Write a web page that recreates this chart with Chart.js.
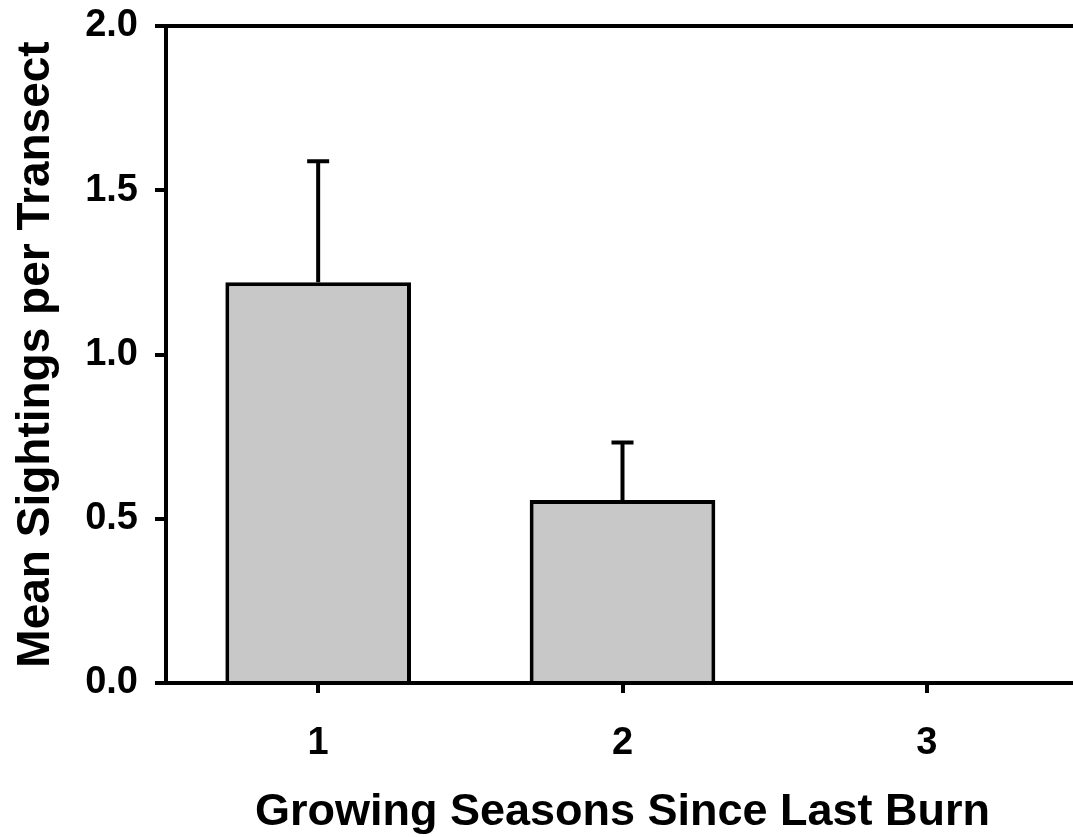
<!DOCTYPE html>
<html>
<head>
<meta charset="utf-8">
<script src="https://cdn.jsdelivr.net/npm/chart.js@4/dist/chart.umd.min.js"></script>
<style>
  html, body { margin: 0; padding: 0; background: #ffffff; overflow: hidden; }
  #wrap { width: 1085px; height: 840px; position: relative; }
</style>
</head>
<body>
<div id="wrap"><canvas id="chart"></canvas></div>
<script>
// Growing seasons since the last burn and mean sightings per transect (+ SE)
const seasons = ['1', '2', '3'];
const meanSightings = [1.22, 0.557, 0];
const stdErrors = [0.368, 0.175, 0];
const yTicks = [0, 0.5, 1.0, 1.5, 2.0];

const FONT = '"Liberation Sans", Arial, sans-serif';
const LINE = 4;

// Upper error bars with caps, drawn through the chart's scales
const errorBars = {
  id: 'errorBars',
  afterDatasetsDraw(chart) {
    const ctx = chart.ctx;
    const xs = chart.scales.x, ys = chart.scales.y;
    ctx.save();
    ctx.strokeStyle = '#000';
    ctx.lineWidth = LINE;
    ctx.lineCap = 'butt';
    meanSightings.forEach((m, i) => {
      const e = stdErrors[i];
      if (!e) return;
      const x = xs.getPixelForValue(i);
      const y0 = ys.getPixelForValue(m);
      const y1 = ys.getPixelForValue(m + e);
      ctx.beginPath();
      ctx.moveTo(x, y0);
      ctx.lineTo(x, y1);
      ctx.moveTo(x - 11, y1);
      ctx.lineTo(x + 11, y1);
      ctx.stroke();
    });
    ctx.restore();
  }
};

// Frame line along the top of the plot area
const topFrame = {
  id: 'topFrame',
  afterDraw(chart) {
    const { ctx, chartArea } = chart;
    ctx.save();
    ctx.strokeStyle = '#000';
    ctx.lineWidth = LINE;
    ctx.beginPath();
    ctx.moveTo(chartArea.left, chartArea.top);
    ctx.lineTo(chartArea.right, chartArea.top);
    ctx.stroke();
    ctx.restore();
  }
};

new Chart(document.getElementById('chart'), {
  type: 'bar',
  data: {
    labels: seasons,
    datasets: [{
      data: meanSightings,
      backgroundColor: '#c8c8c8',
      borderColor: '#000000',
      borderWidth: LINE,
      barPercentage: 0.61,
      categoryPercentage: 1.0
    }]
  },
  options: {
    responsive: true,
    maintainAspectRatio: false,
    animation: false,
    layout: { padding: { top: 26, right: 6, left: 0, bottom: 0 } },
    plugins: {
      legend: { display: false },
      tooltip: { enabled: false }
    },
    scales: {
      x: {
        type: 'category',
        offset: true,
        grid: {
          offset: false,
          drawOnChartArea: false,
          drawTicks: true,
          tickLength: 10,
          color: '#000',
          lineWidth: LINE
        },
        border: { display: true, color: '#000', width: LINE },
        ticks: {
          color: '#000',
          padding: 28,
          font: { family: FONT, size: 38, weight: 'bold' }
        },
        title: {
          display: true,
          text: 'Growing Seasons Since Last Burn',
          color: '#000',
          font: { family: FONT, size: 45, weight: 'bold' },
          padding: { top: 0, bottom: 0 }
        },
        afterFit(scale) {
          scale.height = 157;
          scale.paddingLeft = 0;
          scale.paddingRight = 0;
        }
      },
      y: {
        min: 0,
        max: 2.0,
        afterBuildTicks(scale) { scale.ticks = yTicks.map(v => ({ value: v })); },
        grid: {
          drawOnChartArea: false,
          drawTicks: true,
          tickLength: 11,
          color: '#000',
          lineWidth: LINE
        },
        border: { display: true, color: '#000', width: LINE },
        ticks: {
          color: '#000',
          padding: 17,
          font: { family: FONT, size: 38, weight: 'bold' },
          callback: v => Number(v).toFixed(1)
        },
        title: {
          display: true,
          text: 'Mean Sightings per Transect',
          color: '#000',
          font: { family: FONT, size: 46, weight: 'bold' },
          padding: { top: 9, bottom: 0 }
        },
        afterFit(scale) {
          scale.width = 166;
          scale.paddingTop = 0;
          scale.paddingBottom = 0;
        }
      }
    }
  },
  plugins: [errorBars, topFrame]
});
</script>
</body>
</html>
